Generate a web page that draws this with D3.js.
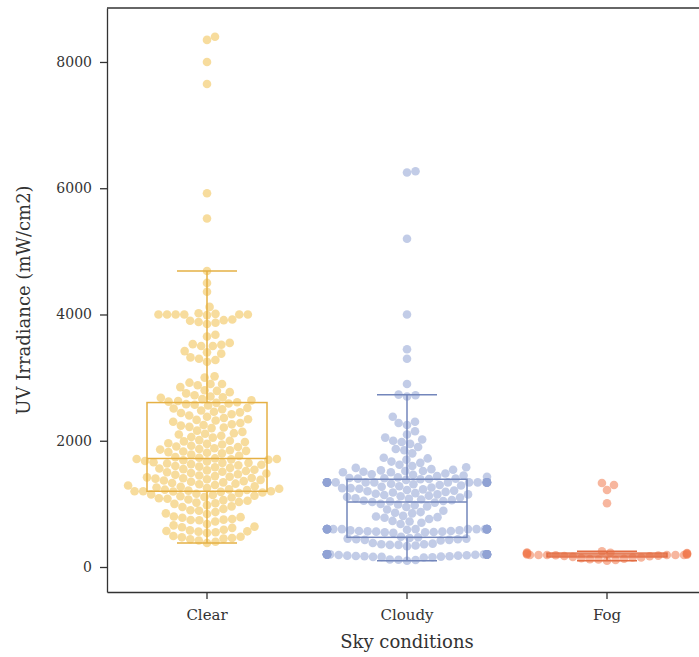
<html>
<head>
  <script src="https://unpkg.com/d3@7/dist/d3.min.js"></script>
  <style>
    body { margin: 0; background: #fff; }
    text { font-family: "DejaVu Serif", serif; fill: #333; }
  </style>
</head>
<body>
  <svg id="container" width="699" height="657"></svg>
<script>
    // sky condition categories and the measured UV irradiance per sample (mW/cm2)
    const categories = ['Clear', 'Cloudy', 'Fog'];

    const clearValues = [
      380, 400, 420,
      440, 450, 460, 470, 480, 490,
      540, 550, 560, 565, 570, 580, 590,
      620, 630, 640, 660, 680,
      720, 740, 745, 750, 760, 780, 790,
      800, 840, 850, 870, 890, 900,
      920, 950, 960, 980, 1000, 1010, 1020, 1030,
      1050, 1060, 1070, 1080, 1090, 1100, 1110, 1120, 1130, 1140, 1150, 1160,
      1170, 1180, 1190, 1195, 1200, 1200, 1200, 1210, 1220, 1225, 1230,
      1240, 1250, 1260, 1270, 1280, 1290, 1300, 1310, 1320, 1330, 1340,
      1350, 1360, 1370, 1380, 1390, 1400, 1405, 1410, 1420, 1430, 1440, 1450, 1460,
      1470, 1480, 1490, 1500, 1510, 1520, 1530, 1540, 1550, 1560, 1570, 1580,
      1590, 1600, 1610, 1620, 1630, 1640, 1650, 1650, 1660, 1670, 1680, 1690, 1700,
      1705, 1710, 1710, 1720, 1730,
      1740, 1760, 1780, 1800, 1810, 1820, 1830, 1840, 1850, 1860,
      1870, 1880, 1900, 1910, 1920, 1940, 1950, 1960, 1980, 1990,
      2000, 2010, 2050, 2060, 2080, 2100, 2110, 2120,
      2140, 2160, 2200, 2210, 2220, 2240, 2250, 2260,
      2280, 2300, 2320, 2330, 2340, 2360, 2380, 2400,
      2420, 2440, 2450, 2460, 2480, 2500, 2510, 2520,
      2560, 2570, 2580, 2590, 2600, 2610, 2620, 2630,
      2640, 2660, 2680, 2690, 2700, 2720, 2750,
      2770, 2790, 2800, 2850,
      2880, 2900, 2900, 2920,
      3000, 3020,
      3250, 3280, 3300, 3320,
      3380, 3400, 3420, 3500, 3500, 3520, 3530, 3550,
      3650, 3680,
      3850, 3870, 3880, 3900, 3910, 3920,
      3990, 4000, 4000, 4000, 4000, 4000, 4000, 4010, 4020,
      4120, 4360, 4500, 4690,
      5520, 5920, 7650, 8000, 8350, 8400
    ];

    const cloudyValues = [
      100, 110, 115, 120,
      150, 155, 160, 160, 165, 170, 170, 175, 180, 180, 185, 190,
      195, 200, 200, 200, 200, 200, 200, 200, 200, 200, 200, 200, 200, 200, 200, 200, 200, 200, 200, 200, 200, 205,
      330, 340, 350, 350, 360, 360, 370, 380,
      420, 430, 430, 440, 440, 450, 450, 460, 470, 480,
      540, 550, 550, 555, 560, 560, 565, 570, 570, 580, 580, 590,
      600, 600, 600, 600, 600, 600, 600, 600, 600, 600, 600, 600, 600, 600, 600, 600, 600, 600, 600, 600,
      680, 700, 720, 730,
      760, 780, 790, 800, 810,
      850, 860, 870, 890, 910,
      950, 960, 980, 990, 1000, 1020, 1030,
      1040, 1045, 1050, 1060, 1070, 1080, 1090, 1100,
      1110, 1120, 1130, 1140, 1150, 1150, 1160, 1170, 1180, 1190, 1200, 1210,
      1220, 1230, 1240, 1250, 1250, 1260, 1270, 1280, 1290, 1300, 1310, 1320,
      1340, 1340, 1340, 1340, 1340, 1340, 1340, 1340, 1340, 1340, 1340, 1340, 1340, 1340, 1340, 1340, 1340, 1340, 1340, 1340,
      1380, 1390, 1395, 1400, 1400, 1405, 1410, 1420, 1430, 1440, 1450, 1460, 1470, 1480,
      1500, 1500, 1510, 1520, 1520, 1530, 1540, 1550,
      1570, 1580, 1600, 1620,
      1650, 1670, 1700, 1720, 1730,
      1800, 1850, 1870, 1900,
      1950, 1980, 2000, 2020, 2050,
      2100, 2150, 2250, 2280, 2300, 2380,
      2700, 2720, 2730,
      2900, 3300, 3450, 4000, 5200, 6250, 6270
    ];

    const fogValues = [
      100, 110, 120, 125, 130, 140, 150, 150,
      160, 170, 175, 180, 185, 190, 190, 190, 190, 190, 190, 195, 200,
      205, 210, 215, 220, 220, 225, 230, 250,
      1010, 1220, 1300, 1330
    ];

    const yTicks = [0, 2000, 4000, 6000, 8000];

    const series = [
      {name: 'Clear', values: clearValues, line: '#e5b044', dot: '#f0bf4c'},
      {name: 'Cloudy', values: cloudyValues, line: '#7386bb', dot: '#8fa2d4'},
      {name: 'Fog', values: fogValues, line: '#e26c42', dot: '#f07a4e'}
    ];

    const svg = d3.select('#container');

    const plotLeft = 107, plotRight = 707, plotTop = 8, plotBottom = 592;

    const xScale = d3.scaleBand()
      .domain(categories)
      .range([plotLeft, plotRight])
      .padding(0);

    const yScale = d3.scaleLinear()
      .domain([-396, 8855])
      .range([plotBottom, plotTop]);

    const r = 4.3;

    // simple beeswarm: sorted values, each point goes to the free spot nearest the centre
    function swarm(values, cx, halfWidth) {
      const d = 2 * r;
      const placed = [];
      values.slice().sort((a, b) => a - b).forEach(v => {
        const y = yScale(v);
        const near = placed.filter(p => Math.abs(p.y - y) < d);
        const cands = [0];
        near.forEach(p => {
          const off = Math.sqrt(d * d - (p.y - y) * (p.y - y));
          cands.push(p.dx + off, p.dx - off);
        });
        cands.sort((a, b) => Math.abs(a) - Math.abs(b));
        const best = cands.find(c => near.every(p => (p.dx - c) * (p.dx - c) + (p.y - y) * (p.y - y) >= d * d - 0.01));
        placed.push({v: v, y: y, dx: best});
      });
      return placed.map(p => ({v: p.v, y: p.y, x: cx + Math.max(-halfWidth, Math.min(halfWidth, p.dx))}));
    }

    function boxStats(values) {
      const s = values.slice().sort((a, b) => a - b);
      const q1 = d3.quantile(s, 0.25), med = d3.quantile(s, 0.5), q3 = d3.quantile(s, 0.75);
      const iqr = q3 - q1;
      const lo = d3.min(s.filter(v => v >= q1 - 1.5 * iqr));
      const hi = d3.max(s.filter(v => v <= q3 + 1.5 * iqr));
      return {q1, med, q3, lo, hi};
    }

    // points
    series.forEach(sr => {
      const cx = xScale(sr.name) + xScale.bandwidth() / 2;
      svg.append('g')
        .selectAll('circle')
        .data(swarm(sr.values, cx, xScale.bandwidth() * 0.4))
        .enter()
        .append('circle')
        .attr('cx', p => p.x)
        .attr('cy', p => p.y)
        .attr('r', r)
        .attr('fill', sr.dot)
        .attr('fill-opacity', 0.55);
    });

    // boxes on top
    series.forEach(sr => {
      const st = boxStats(sr.values);
      const cx = xScale(sr.name) + xScale.bandwidth() / 2;
      const bw = xScale.bandwidth() * 0.6;
      const g = svg.append('g')
        .attr('stroke', sr.line)
        .attr('stroke-width', 1.5)
        .attr('fill', 'none');
      g.append('rect')
        .attr('x', cx - bw / 2)
        .attr('y', yScale(st.q3))
        .attr('width', bw)
        .attr('height', yScale(st.q1) - yScale(st.q3));
      g.append('line')
        .attr('x1', cx - bw / 2).attr('x2', cx + bw / 2)
        .attr('y1', yScale(st.med)).attr('y2', yScale(st.med));
      g.append('line')
        .attr('x1', cx).attr('x2', cx)
        .attr('y1', yScale(st.q3)).attr('y2', yScale(st.hi));
      g.append('line')
        .attr('x1', cx).attr('x2', cx)
        .attr('y1', yScale(st.q1)).attr('y2', yScale(st.lo));
      [st.hi, st.lo].forEach(w => {
        g.append('line')
          .attr('x1', cx - bw / 4).attr('x2', cx + bw / 4)
          .attr('y1', yScale(w)).attr('y2', yScale(w));
      });
    });

    // axes
    const yAxis = svg.append('g')
      .attr('transform', `translate(${plotLeft}, 0)`)
      .call(d3.axisLeft(yScale).tickValues(yTicks).tickFormat(d3.format('d'))
        .tickSize(7).tickPadding(8).tickSizeOuter(0));
    yAxis.selectAll('text').style('font-size', '14px');

    const xAxis = svg.append('g')
      .attr('transform', `translate(0, ${plotBottom})`)
      .call(d3.axisBottom(xScale).tickSize(7).tickPadding(10).tickSizeOuter(0));
    xAxis.selectAll('text').style('font-size', '15px');

    svg.selectAll('.domain, .tick line').attr('stroke', '#333').attr('stroke-width', 1.3);

    svg.append('line')
      .attr('x1', plotLeft).attr('x2', plotRight)
      .attr('y1', plotTop).attr('y2', plotTop)
      .attr('stroke', '#333').attr('stroke-width', 1.3);

    svg.append('text')
      .attr('x', (plotLeft + plotRight) / 2)
      .attr('y', 648)
      .attr('text-anchor', 'middle')
      .style('font-size', '18px')
      .text('Sky conditions');

    svg.append('text')
      .attr('transform', `translate(30, ${(plotTop + plotBottom) / 2}) rotate(-90)`)
      .attr('text-anchor', 'middle')
      .style('font-size', '18px')
      .text('UV Irradiance (mW/cm2)');
</script>
</body>
</html>
